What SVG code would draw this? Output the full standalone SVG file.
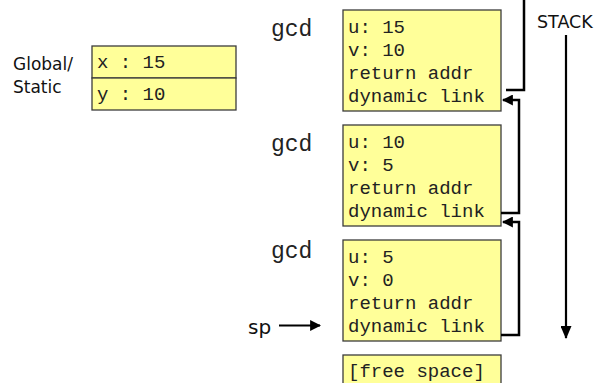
<svg xmlns="http://www.w3.org/2000/svg" width="599" height="383" viewBox="0 0 599 383">
  <style>
    .box { fill: #ffff99; stroke: #3c3c3c; stroke-width: 1.3; }
    .mono { font-family: "Liberation Mono", "Courier New", monospace; font-size: 19px; fill: #222; }
    .fn { font-family: "Liberation Mono", "Courier New", monospace; font-size: 23px; fill: #222; }
    .sans { font-family: "DejaVu Sans", Tahoma, sans-serif; font-size: 17px; fill: #111; }
    .link { fill: none; stroke: #000; stroke-width: 2.5; }
  </style>
  <defs>
    <marker id="head" viewBox="0 0 10 10" refX="9" refY="5" markerWidth="11" markerHeight="11" orient="auto" markerUnits="userSpaceOnUse">
      <path d="M0,0 L10,5 L0,10 z" fill="#000"/>
    </marker>
    <marker id="bighead" viewBox="0 0 13 11" refX="12" refY="5.5" markerWidth="13" markerHeight="11" orient="auto" markerUnits="userSpaceOnUse">
      <path d="M0,0 L13,5.5 L0,11 z" fill="#000"/>
    </marker>
  </defs>

  <rect width="599" height="383" fill="#fff"/>

  <!-- global / static area -->
  <g id="globals">
    <text class="sans" x="13" y="70">Global/</text>
    <text class="sans" x="13" y="93">Static</text>
    <rect class="box" x="92" y="46" width="144" height="32"/>
    <rect class="box" x="92" y="78" width="144" height="32"/>
    <text class="mono" x="97" y="68">x : 15</text>
    <text class="mono" x="97" y="100">y : 10</text>
  </g>

  <!-- activation record 1 -->
  <g id="frame1">
    <text class="fn" x="271" y="36">gcd</text>
    <rect class="box" x="343" y="10" width="158" height="101"/>
    <text class="mono" x="348" y="33">u: 15</text>
    <text class="mono" x="348" y="56">v: 10</text>
    <text class="mono" x="348" y="79">return addr</text>
    <text class="mono" x="348" y="102">dynamic link</text>
  </g>

  <!-- activation record 2 -->
  <g id="frame2">
    <text class="fn" x="271" y="151">gcd</text>
    <rect class="box" x="343" y="125" width="158" height="101"/>
    <text class="mono" x="348" y="148">u: 10</text>
    <text class="mono" x="348" y="171">v: 5</text>
    <text class="mono" x="348" y="194">return addr</text>
    <text class="mono" x="348" y="217">dynamic link</text>
  </g>

  <!-- activation record 3 -->
  <g id="frame3">
    <text class="fn" x="271" y="258">gcd</text>
    <rect class="box" x="343" y="240" width="158" height="101"/>
    <text class="mono" x="348" y="263">u: 5</text>
    <text class="mono" x="348" y="286">v: 0</text>
    <text class="mono" x="348" y="309">return addr</text>
    <text class="mono" x="348" y="332">dynamic link</text>
  </g>

  <!-- unused stack space -->
  <g id="free">
    <rect class="box" x="343" y="355" width="158" height="40"/>
    <text class="mono" x="348" y="377">[free space]</text>
  </g>

  <!-- stack pointer label -->
  <g id="sp">
    <text class="sans" x="248" y="334" style="font-size:20px">sp</text>
  </g>

  <!-- growth direction label -->
  <g id="stack">
    <text class="sans" x="537" y="28" style="font-size:17.5px">STACK</text>
  </g>

  <!-- connectors -->
  <g id="connectors">
    <path class="link" d="M524,0 V90 H506"/>
    <path class="link" d="M501,213 H519 V100 H503" marker-end="url(#head)"/>
    <path class="link" d="M501,335 H519 V222 H503" marker-end="url(#head)"/>
    <path fill="none" stroke="#000" stroke-width="2" d="M279,325.5 H320" marker-end="url(#head)"/>
    <path fill="none" stroke="#000" stroke-width="2.2" d="M566,35 V338" marker-end="url(#bighead)"/>
  </g>
</svg>
